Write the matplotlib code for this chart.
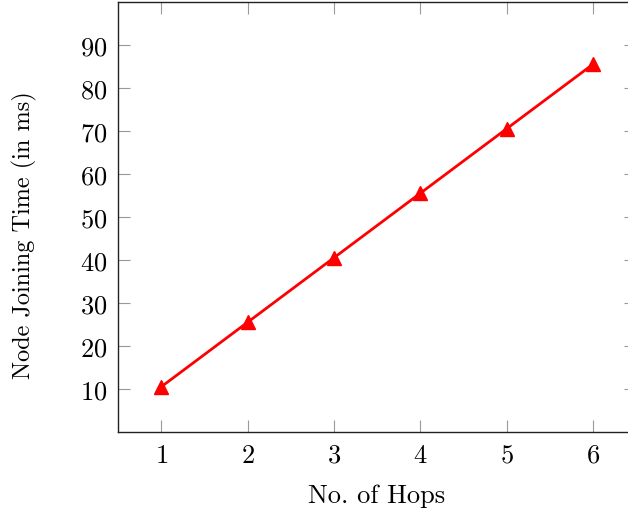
import matplotlib
matplotlib.use('Agg')
import matplotlib.pyplot as plt

# data
hops = [1, 2, 3, 4, 5, 6]
join_time = [10.5, 25.5, 40.5, 55.5, 70.5, 85.5]
yticks = [10, 20, 30, 40, 50, 60, 70, 80, 90]

plt.rcParams['font.family'] = ['cmr10', 'DejaVu Serif']
plt.rcParams['axes.formatter.use_mathtext'] = True

fig = plt.figure(figsize=(6.28, 5.10), dpi=100)
ax = fig.add_axes([118/628, 1-433/510, (636-118)/628, 430/510])

ax.plot(hops, join_time, color='red', lw=2, marker='^', ms=10, clip_on=False)

ax.set_xlim(0.5, 6.5)
ax.set_ylim(0, 100)
ax.set_xticks(hops)
ax.set_yticks(yticks)
ax.tick_params(direction='in', length=8.5, width=0.8, color='#999999',
               top=True, right=True, labelsize=19, pad=8)
for s in ax.spines.values():
    s.set_color('#222222')
    s.set_linewidth(1.0)

ax.set_xlabel('No. of Hops', fontsize=19, labelpad=12)
ax.set_ylabel('Node Joining Time (in ms)', fontsize=17.5)
ax.yaxis.set_label_coords(-0.157, 0.46)

fig.savefig('out.png', dpi=100)
